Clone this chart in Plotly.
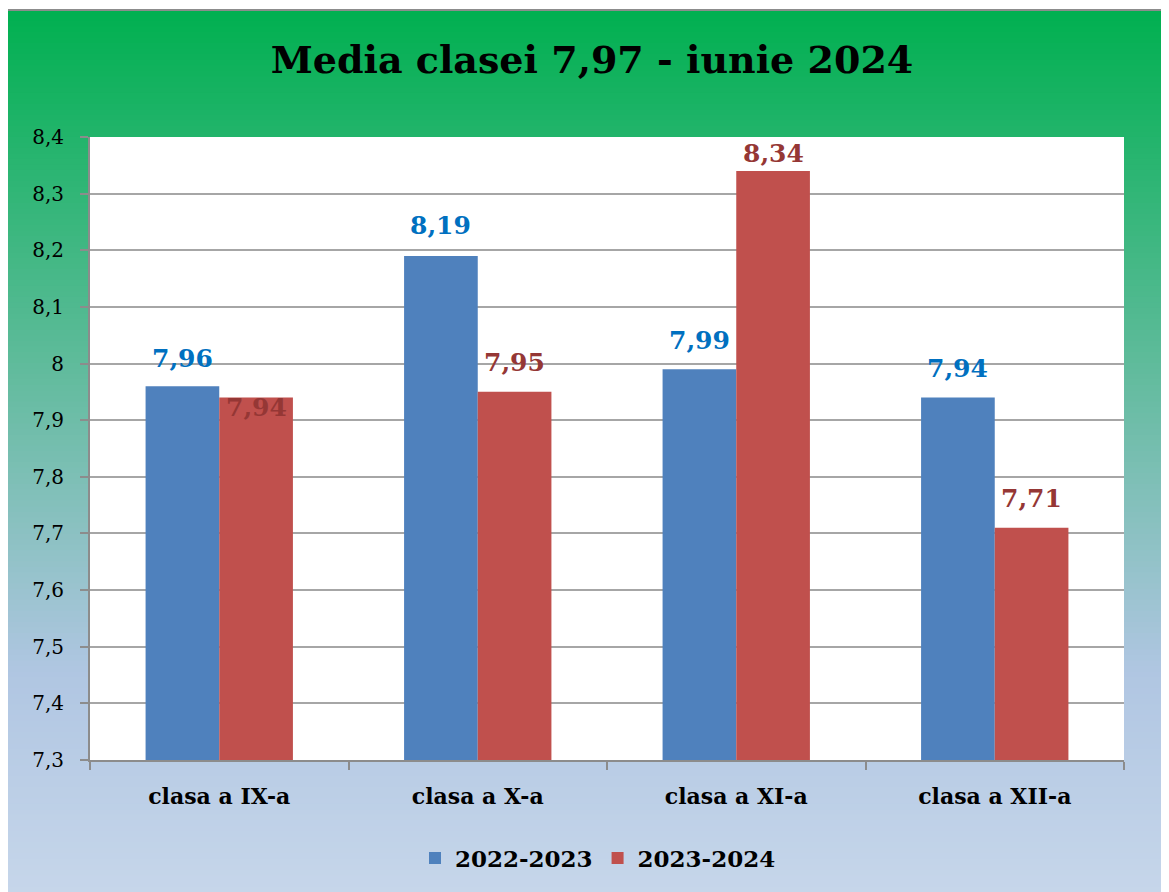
import plotly.graph_objects as go

categories = ["clasa a IX-a", "clasa a X-a", "clasa a XI-a", "clasa a XII-a"]
series_names = ["2022-2023", "2023-2024"]
values_2022_2023 = [7.96, 8.19, 7.99, 7.94]
values_2023_2024 = [7.94, 7.95, 8.34, 7.71]
title_text = "Media clasei 7,97 - iunie 2024"

W, H = 1169, 892
OFF = 8  # page body margin
ML, MT = 90 - OFF, 137 - OFF
MR, MB = W - (1124 - OFF), H - (760 - OFF)
PW, PH = W - ML - MR, H - MT - MB

bar_colors = ["#4F81BD", "#C0504D"]
label_colors = ["#0070C0", "#953735"]
FONT = "DejaVu Serif"

fig = go.Figure()
for name, vals, col in zip(series_names, [values_2022_2023, values_2023_2024], bar_colors):
    fig.add_trace(go.Bar(x=categories, y=vals, name=name, marker=dict(color=col, line=dict(width=0))))

# data labels as annotations
bargap = 0.43
bar_px = PW / len(categories) * (1 - bargap) / 2
label_yshift = [[28, 30, 29, 29], [-10, 29, 17, 29]]
for s, vals in enumerate([values_2022_2023, values_2023_2024]):
    xs = (-0.5 + s) * bar_px
    for i, v in enumerate(vals):
        fig.add_annotation(x=categories[i], y=v, xref="x", yref="y", text=f"{v:.2f}".replace(".", ","),
                           showarrow=False, xshift=xs, yshift=label_yshift[s][i], yanchor="middle",
                           font=dict(family=FONT, size=25, color=label_colors[s], weight="bold"))

# pixel (screen) -> paper coordinates
def px2paper_x(px):
    return (px - OFF - ML) / PW

def px2paper_y(py):
    return (H - MB - (py - OFF)) / PH

stops = [(0.0, (0, 176, 80)), (0.4, (95, 187, 155)), (0.75, (176, 198, 226)), (1.0, (198, 214, 234))]

def grad(t):
    for (t0, c0), (t1, c1) in zip(stops[:-1], stops[1:]):
        if t0 <= t <= t1:
            f = (t - t0) / (t1 - t0)
            return "rgb(%d,%d,%d)" % tuple(round(a + (b - a) * f) for a, b in zip(c0, c1))
    return "rgb(%d,%d,%d)" % stops[-1][1]

top_px, left_px = 10, 7
N = 160
shapes = []
step = (H - top_px) / N
for k in range(N):
    y0 = top_px + k * step
    y1 = y0 + step + 1
    shapes.append(dict(type="rect", xref="paper", yref="paper", layer="below",
                       x0=px2paper_x(left_px), x1=px2paper_x(W + 20),
                       y0=px2paper_y(y0), y1=px2paper_y(y1),
                       fillcolor=grad((k + 0.5) / N), line=dict(width=0)))
# plot area white
shapes.append(dict(type="rect", xref="paper", yref="paper", layer="below", x0=0, x1=1, y0=0, y1=1,
                   fillcolor="white", line=dict(width=0)))
# chart border
shapes.append(dict(type="rect", xref="paper", yref="paper", layer="above",
                   x0=px2paper_x(left_px), x1=px2paper_x(W + 20),
                   y0=px2paper_y(H + 20), y1=px2paper_y(top_px),
                   fillcolor="rgba(0,0,0,0)", line=dict(color="#8c8c8c", width=2)))

fig.update_layout(
    width=W, height=H,
    margin=dict(l=ML, r=MR, t=MT, b=MB),
    paper_bgcolor="white", plot_bgcolor="white",
    separators=",.",
    barmode="group", bargap=bargap, bargroupgap=0,
    shapes=shapes,
    title=dict(text=title_text, x=(592 - OFF) / W, xanchor="center", y=1 - (60 - OFF) / H, yanchor="middle",
               yref="container", font=dict(family=FONT, size=38, color="black", weight="bold")),
    legend=dict(orientation="h", x=px2paper_x(598), xanchor="center", y=px2paper_y(858), yanchor="middle",
                font=dict(family=FONT, size=23, color="black", weight="bold"),
                bgcolor="rgba(0,0,0,0)", itemwidth=30, traceorder="normal"),
    showlegend=True,
)
fig.update_yaxes(range=[7.3, 8.4], dtick=0.1, tick0=7.3, showgrid=True, gridcolor="#a6a6a6", gridwidth=1.5,
                 showline=True, linecolor="#8c8c8c", linewidth=2, ticks="outside", ticklen=8,
                 tickcolor="#8c8c8c", tickwidth=1.5, ticklabelstandoff=12,
                 tickfont=dict(family=FONT, size=20, color="black"), zeroline=False)
fig.update_xaxes(showline=True, linecolor="#8c8c8c", linewidth=2, ticks="outside", ticklen=8,
                 tickcolor="#8c8c8c", tickwidth=2, tickson="boundaries", ticklabelstandoff=16,
                 tickfont=dict(family=FONT, size=22, color="black", weight="bold"), showgrid=False)

fig.write_html("out.html")
